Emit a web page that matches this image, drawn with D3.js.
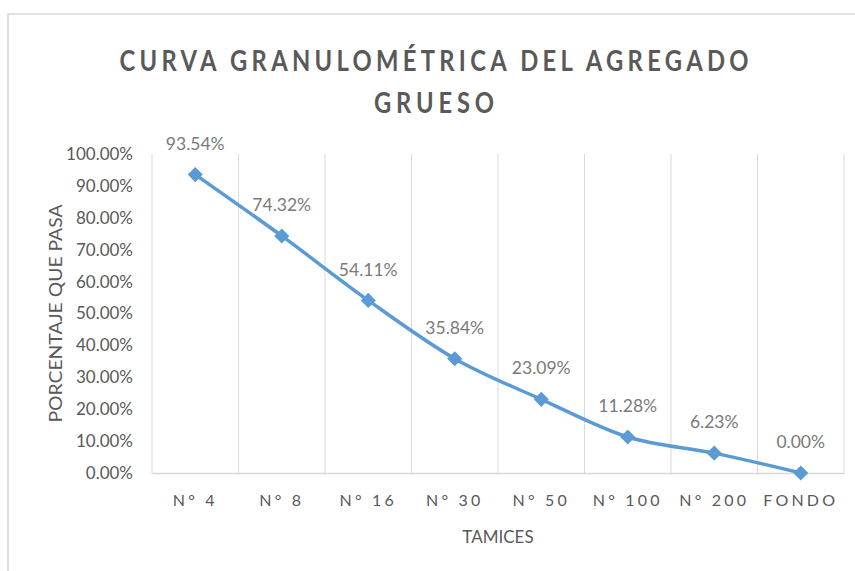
<!DOCTYPE html>
<html>
<head>
<meta charset="utf-8">
<script src="https://cdn.jsdelivr.net/npm/d3@7"></script>
<style>
  html, body { margin: 0; padding: 0; background: #ffffff; }
  svg { display: block; font-family: Lato, "Open Sans", "Liberation Sans", sans-serif; }
</style>
</head>
<body>
<svg id="chart" width="855" height="571"></svg>
<script>
// Sieve sizes and cumulative passing percentage
const categories = ["N° 4", "N° 8", "N° 16", "N° 30", "N° 50", "N° 100", "N° 200", "FONDO"];
const passing = [0.9354, 0.7432, 0.5411, 0.3584, 0.2309, 0.1128, 0.0623, 0.0];
const yTicks = [0, 0.1, 0.2, 0.3, 0.4, 0.5, 0.6, 0.7, 0.8, 0.9, 1.0];
const titleLines = ["CURVA GRANULOMÉTRICA DEL AGREGADO", "GRUESO"];
const xTitle = "TAMICES";
const yTitle = "PORCENTAJE QUE PASA";

const svg = d3.select("#chart");
const plot = { left: 152, right: 844, top: 154, bottom: 473 };

// chart frame
svg.append("rect")
  .attr("x", 8).attr("y", 14)
  .attr("width", 900).attr("height", 600)
  .attr("fill", "#ffffff")
  .attr("stroke", "#d9d9d9").attr("stroke-width", 1.5);

const x = d3.scaleBand().domain(categories).range([plot.left, plot.right]).padding(0);
const y = d3.scaleLinear().domain([0, 1]).range([plot.bottom, plot.top]);
const pct = d3.format(".2%");

// vertical gridlines at category boundaries
const bounds = categories.map(c => x(c)).concat([x(categories[categories.length - 1]) + x.bandwidth()]);
svg.append("g").selectAll("line").data(bounds).join("line")
  .attr("x1", d => d).attr("x2", d => d)
  .attr("y1", y(1)).attr("y2", y(0))
  .attr("stroke", "#d9d9d9").attr("stroke-width", 1);

// category axis
const xAxis = svg.append("g")
  .attr("transform", `translate(0,${y(0)})`)
  .call(d3.axisBottom(x).tickSize(0).tickPadding(0));
xAxis.select(".domain").attr("stroke", "#d9d9d9").attr("stroke-width", 1.5);
xAxis.selectAll("text")
  .attr("y", 33).attr("dy", 0)
  .attr("fill", "#595959")
  .style("font-size", "16px")
  .style("letter-spacing", "3.2px")
  .style("font-family", "Lato, sans-serif");

// value axis (labels only)
const yAxis = svg.append("g")
  .attr("transform", `translate(${plot.left},0)`)
  .call(d3.axisLeft(y).tickValues(yTicks).tickFormat(pct).tickSize(0).tickPadding(19));
yAxis.select(".domain").remove();
yAxis.selectAll("text")
  .attr("fill", "#595959")
  .style("font-size", "17px")
  .style("font-family", "Lato, sans-serif");

// smoothed curve
const line = d3.line()
  .x((d, i) => x(categories[i]) + x.bandwidth() / 2)
  .y(d => y(d))
  .curve(d3.curveCatmullRom.alpha(0));
svg.append("path")
  .datum(passing)
  .attr("d", line)
  .attr("fill", "none")
  .attr("stroke", "#5b9bd5")
  .attr("stroke-width", 3.5)
  .attr("stroke-linejoin", "round");

// diamond markers
svg.append("g").selectAll("path").data(passing).join("path")
  .attr("d", d3.symbol(d3.symbolDiamond2, 145))
  .attr("transform", (d, i) => `translate(${x(categories[i]) + x.bandwidth() / 2},${y(d)})`)
  .attr("fill", "#5b9bd5");

// data labels
svg.append("g").selectAll("text").data(passing).join("text")
  .attr("x", (d, i) => x(categories[i]) + x.bandwidth() / 2)
  .attr("y", d => y(d) - 31)
  .attr("dy", "0.35em")
  .attr("text-anchor", "middle")
  .attr("fill", "#7a7a7a")
  .style("font-size", "17.5px")
  .text(d => pct(d));

// title: narrow glyphs with open tracking
const titleSquash = 0.82;
const titleWidths = [629, 120];
svg.append("g")
  .attr("transform", `translate(434,0) scale(${titleSquash},1)`)
  .selectAll("text").data(titleLines).join("text")
  .attr("x", 0)
  .attr("y", (d, i) => 71 + i * 42)
  .attr("text-anchor", "middle")
  .attr("fill", "#595959")
  .style("font-size", "29px")
  .style("font-weight", "bold")
  .attr("textLength", (d, i) => titleWidths[i] / titleSquash)
  .attr("lengthAdjust", "spacing")
  .text(d => d);

// axis titles
svg.append("text")
  .attr("x", (plot.left + plot.right) / 2)
  .attr("y", 543)
  .attr("text-anchor", "middle")
  .attr("fill", "#595959")
  .style("font-size", "17px")
  .text(xTitle);

svg.append("text")
  .attr("transform", `translate(62,${(plot.top + plot.bottom) / 2}) rotate(-90)`)
  .attr("text-anchor", "middle")
  .attr("fill", "#595959")
  .style("font-size", "18px")
  .attr("textLength", 218)
  .attr("lengthAdjust", "spacingAndGlyphs")
  .text(yTitle);
</script>
</body>
</html>
